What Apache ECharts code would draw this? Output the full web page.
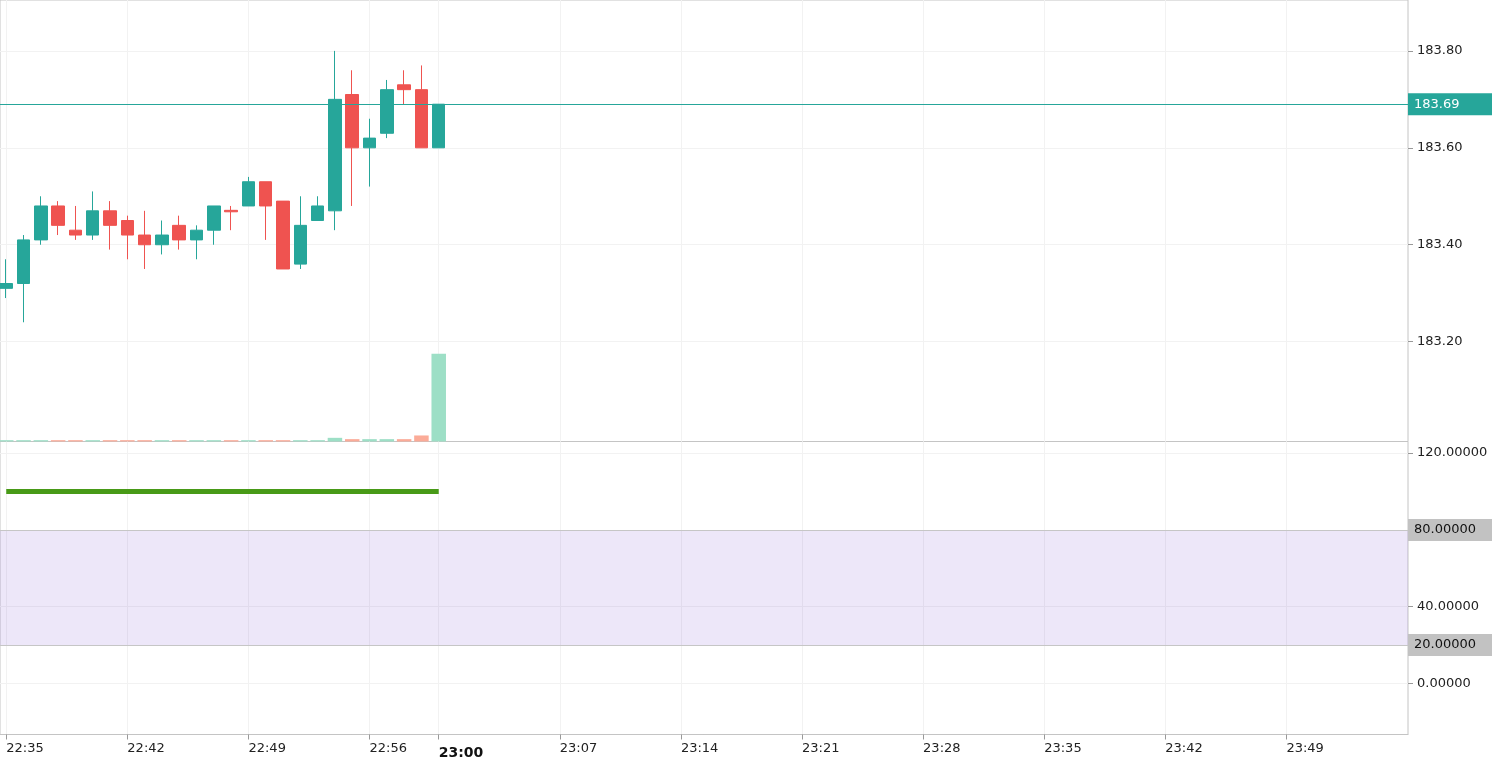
<!DOCTYPE html>
<html>
<head>
<meta charset="utf-8">
<title>Candles 1m</title>
<script src="https://cdn.jsdelivr.net/npm/echarts@6.0.0/dist/echarts.min.js"></script>
<style>
  html, body { margin: 0; padding: 0; background: #fff; }
  #chart { width: 1492px; height: 764px; }
</style>
</head>
<body>
<div id="chart"></div>
<script>
// 1 minute candles, 22:35 .. 23:00
const candleTimes = ['22:35', '22:36', '22:37', '22:38', '22:39', '22:40', '22:41', '22:42', '22:43',
  '22:44', '22:45', '22:46', '22:47', '22:48', '22:49', '22:50', '22:51', '22:52', '22:53', '22:54',
  '22:55', '22:56', '22:57', '22:58', '22:59', '23:00'];
const openValues = [183.31, 183.32, 183.41, 183.48, 183.43, 183.42, 183.47, 183.45, 183.42, 183.40,
  183.44, 183.41, 183.43, 183.471, 183.48, 183.53, 183.49, 183.36, 183.45, 183.47,
  183.71, 183.60, 183.63, 183.73, 183.72, 183.60];
const closeValues = [183.32, 183.41, 183.48, 183.44, 183.42, 183.47, 183.44, 183.42, 183.40, 183.42,
  183.41, 183.43, 183.48, 183.468, 183.53, 183.48, 183.35, 183.44, 183.48, 183.70,
  183.60, 183.62, 183.72, 183.72, 183.60, 183.69];
const lowValues = [183.29, 183.24, 183.40, 183.42, 183.41, 183.41, 183.39, 183.37, 183.35, 183.38,
  183.39, 183.37, 183.40, 183.43, 183.48, 183.41, 183.35, 183.35, 183.45, 183.43,
  183.48, 183.52, 183.62, 183.69, 183.60, 183.60];
const highValues = [183.37, 183.42, 183.50, 183.49, 183.48, 183.51, 183.49, 183.46, 183.47, 183.45,
  183.46, 183.44, 183.48, 183.48, 183.54, 183.53, 183.49, 183.50, 183.50, 183.80,
  183.76, 183.66, 183.74, 183.76, 183.77, 183.69];
const volumeValues = [0.9, 0.9, 0.9, 0.9, 0.9, 0.9, 0.9, 0.9, 0.9, 0.9,
  0.9, 0.9, 0.9, 0.9, 0.9, 0.9, 0.9, 0.9, 0.9, 2.5,
  1.6, 1.6, 1.6, 1.6, 4.1, 59.6];
const indicatorValues = [100, 100, 100, 100, 100, 100, 100, 100, 100, 100,
  100, 100, 100, 100, 100, 100, 100, 100, 100, 100,
  100, 100, 100, 100, 100, 100];

// x axis ticks (minutes after 22:35)
const tickMinutes = [0, 7, 14, 21, 25, 32, 39, 46, 53, 60, 67, 74];
const tickLabels = ['22:35', '22:42', '22:49', '22:56', '23:00', '23:07', '23:14', '23:21', '23:28', '23:35', '23:42', '23:49'];
const priceTicks = [183.2, 183.4, 183.6, 183.8];
const oscTicks = [0, 40, 120];
const lastPrice = 183.69;
const bandLevels = [80, 20];

const FONT = 'DejaVu Sans';
const UP = '#26a69a', DOWN = '#ef5350';

const chart = echarts.init(document.getElementById('chart'));

const candleData = candleTimes.map((t, i) => [i, openValues[i], closeValues[i], lowValues[i], highValues[i]]);
const volumeData = candleTimes.map((t, i) => ({
  value: [i, volumeValues[i]],
  itemStyle: { color: closeValues[i] >= openValues[i] ? '#9ddfc6' : '#fbab98' }
}));
const indicatorData = candleTimes.map((t, i) => [i, indicatorValues[i]]);

const gridLine = { show: true, lineStyle: { color: '#f2f2f2', width: 1 } };
const xRange = { min: -0.361, max: 81.03 };

const option = {
  animation: false,
  backgroundColor: '#fff',
  grid: [
    { left: 0, top: 0, width: 1408, height: 441.5, show: true, borderColor: '#c4c4c4', borderWidth: 1 },
    { left: 0, top: 441.5, width: 1408, height: 293, show: true, borderColor: '#c4c4c4', borderWidth: 1 }
  ],
  xAxis: [
    {
      type: 'value', gridIndex: 0, min: xRange.min, max: xRange.max,
      axisLine: { show: false, onZero: false },
      axisTick: { show: false, customValues: tickMinutes },
      axisLabel: { show: false },
      splitLine: gridLine
    },
    {
      type: 'value', gridIndex: 1, min: xRange.min, max: xRange.max,
      axisLine: { show: true, onZero: false, lineStyle: { color: '#c4c4c4' } },
      axisTick: { show: true, length: 5, customValues: tickMinutes, lineStyle: { color: '#999' } },
      axisLabel: {
        customValues: tickMinutes,
        align: 'left',
        margin: 8,
        color: '#222',
        fontFamily: FONT,
        fontSize: 13,
        formatter: function (v) {
          const s = tickLabels[tickMinutes.indexOf(Math.round(v))] || '';
          return s === '23:00' ? '{big|' + s + '}' : s;
        },
        rich: {
          big: { fontFamily: FONT, fontSize: 14, fontWeight: 'bold', color: '#111', padding: [4, 0, 0, 0] }
        }
      },
      splitLine: gridLine
    }
  ],
  yAxis: [
    {
      type: 'value', gridIndex: 0, position: 'right', min: 182.994, max: 183.905, scale: true,
      axisLine: { show: false, onZero: false },
      axisTick: { show: true, length: 5, customValues: priceTicks, lineStyle: { color: '#999' } },
      axisLabel: {
        customValues: priceTicks, margin: 9, color: '#222', fontFamily: FONT, fontSize: 13,
        formatter: v => v.toFixed(2)
      },
      splitLine: gridLine
    },
    {
      type: 'value', gridIndex: 0, min: 0, max: 300, show: false, splitLine: { show: false }
    },
    {
      type: 'value', gridIndex: 1, position: 'right', min: -26.6, max: 126.05,
      axisLine: { show: false, onZero: false },
      axisTick: { show: true, length: 5, customValues: oscTicks, lineStyle: { color: '#999' } },
      axisLabel: {
        customValues: oscTicks, margin: 9, color: '#222', fontFamily: FONT, fontSize: 13,
        formatter: v => v.toFixed(5)
      },
      splitLine: gridLine
    }
  ],
  series: [
    {
      name: 'volume',
      type: 'bar',
      xAxisIndex: 0, yAxisIndex: 1,
      barWidth: 14.5,
      data: volumeData,
      z: 1
    },
    {
      name: 'price',
      type: 'candlestick',
      xAxisIndex: 0, yAxisIndex: 0,
      barWidth: 13,
      encode: { x: 0, y: [1, 2, 3, 4] },
      itemStyle: { color: UP, color0: DOWN, borderColor: UP, borderColor0: DOWN, borderWidth: 1 },
      data: candleData,
      z: 3,
      markLine: {
        silent: true,
        symbol: 'none',
        animation: false,
        lineStyle: { color: UP, width: 1, type: 'solid' },
        label: {
          position: 'end', distance: 0,
          formatter: lastPrice.toFixed(2),
          color: '#fff', backgroundColor: UP,
          fontFamily: FONT, fontSize: 13,
          padding: [5, 36, 4, 6]
        },
        data: [{ yAxis: lastPrice }]
      }
    },
    {
      name: 'oscillator',
      type: 'line',
      xAxisIndex: 1, yAxisIndex: 2,
      symbol: 'none',
      lineStyle: { color: '#489a17', width: 5, cap: 'butt' },
      data: indicatorData,
      z: 3,
      markArea: {
        silent: true,
        itemStyle: { color: 'rgba(126, 87, 214, 0.14)' },
        data: [[{ yAxis: bandLevels[0] }, { yAxis: bandLevels[1] }]]
      },
      markLine: {
        silent: true,
        symbol: 'none',
        animation: false,
        lineStyle: { color: '#c6c6c6', width: 1, type: 'solid' },
        label: {
          position: 'end', distance: 0,
          formatter: p => p.value.toFixed(5),
          color: '#111', backgroundColor: '#c2c2c2',
          fontFamily: FONT, fontSize: 13,
          padding: [5, 16, 4, 6]
        },
        data: bandLevels.map(v => ({ yAxis: v }))
      }
    }
  ]
};

chart.setOption(option);
</script>
</body>
</html>
